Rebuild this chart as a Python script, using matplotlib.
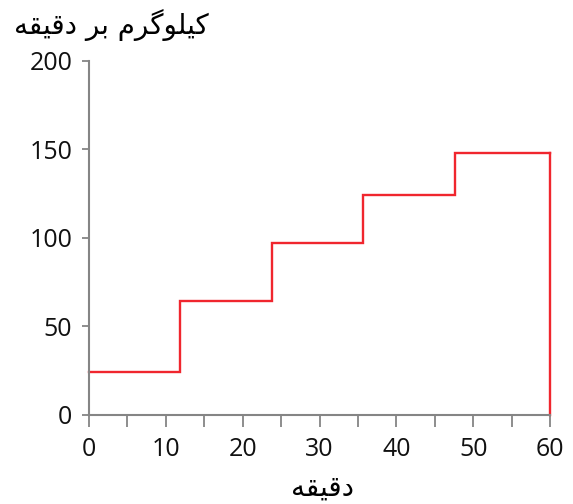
import matplotlib
matplotlib.use("Agg")
import matplotlib.pyplot as plt

# ---- data ----
step_edges = [0, 11.8, 23.8, 35.6, 47.6, 60]
rates = [24, 64, 97, 124, 148]
x_ticks = [0, 10, 20, 30, 40, 50, 60]
y_ticks = [0, 50, 100, 150, 200]
x_label = "دقیقه"
y_label = "کیلوگرم بر دقیقه"

# ---- minimal Arabic/Persian shaping (matplotlib has no shaping engine) ----
FORMS = {  # iso, fin, init, med
    "\u06A9": ("\uFB8E", "\uFB8F", "\uFB90", "\uFB91"),
    "\u06CC": ("\uFBFC", "\uFBFD", "\uFBFE", "\uFBFF"),
    "\u0644": ("\uFEDD", "\uFEDE", "\uFEDF", "\uFEE0"),
    "\u0648": ("\uFEED", "\uFEEE", None, None),
    "\u06AF": ("\uFB92", "\uFB93", "\uFB94", "\uFB95"),
    "\u0631": ("\uFEAD", "\uFEAE", None, None),
    "\u0645": ("\uFEE1", "\uFEE2", "\uFEE3", "\uFEE4"),
    "\u0628": ("\uFE8F", "\uFE90", "\uFE91", "\uFE92"),
    "\u062F": ("\uFEA9", "\uFEAA", None, None),
    "\u0642": ("\uFED5", "\uFED6", "\uFED7", "\uFED8"),
    "\u0647": ("\uFEE9", "\uFEEA", "\uFEEB", "\uFEEC"),
}


def dual(c):
    return c in FORMS and FORMS[c][2] is not None


def shape(text):
    out = []
    n = len(text)
    for i, c in enumerate(text):
        if c not in FORMS:
            out.append(c)
            continue
        prev_join = i > 0 and dual(text[i - 1])
        next_join = dual(c) and i + 1 < n and text[i + 1] in FORMS
        iso, fin, ini, med = FORMS[c]
        if prev_join and next_join:
            out.append(med)
        elif prev_join:
            out.append(fin)
        elif next_join:
            out.append(ini)
        else:
            out.append(iso)
    return "".join(reversed(out))


W, H = 573, 504
fig = plt.figure(figsize=(W / 100, H / 100), dpi=100)
ax = fig.add_axes([89 / W, 1 - 414.5 / H, (550 - 89) / W, (414.5 - 61) / H])

xs = list(step_edges)
ys = list(rates) + [rates[-1]]
red = "#f0262e"
ax.step(xs, ys, where="post", color=red, lw=1.7, solid_joinstyle="miter", clip_on=False)
ax.plot([step_edges[-1], step_edges[-1]], [rates[-1], 0], color=red, lw=1.7, clip_on=False)

ax.set_xlim(x_ticks[0], x_ticks[-1])
ax.set_ylim(y_ticks[0], y_ticks[-1])
ax.set_xticks(x_ticks)
ax.set_xticks([5, 15, 25, 35, 45, 55], minor=True)
ax.set_yticks(y_ticks)

for s in ["top", "right"]:
    ax.spines[s].set_visible(False)
for s in ["left", "bottom"]:
    ax.spines[s].set_color("#858585")
    ax.spines[s].set_linewidth(1.5)

tick_font = "Open Sans"
ax.tick_params(axis="x", which="both", direction="out", length=8.5, width=1.3,
               color="#858585", pad=8, labelsize=18, labelcolor="#111111")
ax.tick_params(axis="y", direction="out", length=5, width=1.3,
               color="#858585", pad=7, labelsize=18, labelcolor="#111111")
for lab in ax.get_xticklabels() + ax.get_yticklabels():
    lab.set_fontfamily(tick_font)

fig.text(111 / W, 1 - 25 / H, shape(y_label), ha="center", va="center",
         fontsize=20, family="DejaVu Sans", color="#000000")
fig.text(323 / W, 1 - 488 / H, shape(x_label), ha="center", va="center",
         fontsize=20, family="DejaVu Sans", color="#000000")

fig.savefig("out.png", dpi=100)
